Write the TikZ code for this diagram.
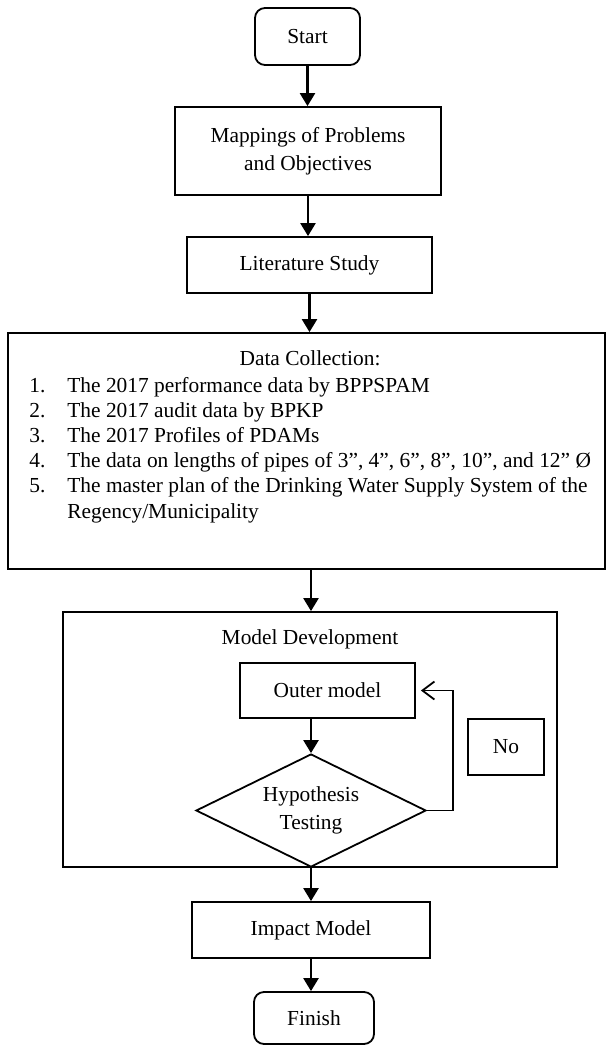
\documentclass[tikz,border=0pt]{standalone}
\usepackage{fontspec}
\setmainfont{Liberation Serif}
\usetikzlibrary{arrows.meta,shapes.geometric}

\begin{document}
\begin{tikzpicture}[x=0.5pt, y=-0.5pt,
    every node/.style={font=\fontsize{10.7}{14}\selectfont},
    box/.style={draw, line width=0.9pt, inner sep=0pt, align=center},
    roundbox/.style={box, rounded corners=5pt},
    flow/.style={-{Triangle[length=6.5pt, width=7.5pt]}, line width=1.2pt},
    back/.style={-{Straight Barb[length=6pt, width=9pt]}, line width=0.9pt, shorten >=2.5pt}]
    \useasboundingbox (0, 0) rectangle (607, 1045);

    \node[roundbox, minimum width=52.5pt, minimum height=28.5pt] (start) at (307.5, 36.5) {Start};
    \node[box, minimum width=133pt, minimum height=44pt] (map) at (308, 151) {Mappings of Problems\\and Objectives};
    \node[box, minimum width=122.5pt, minimum height=28pt] (lit) at (309.5, 265) {Literature Study};

    \node[box, minimum width=298.5pt, minimum height=118pt] (data) at (306.5, 451) {};
    \node (datatitle) at (310, 358) {Data Collection:};
    \node[anchor=base west, inner sep=0pt, font=\fontsize{10.7}{12.6}\selectfont] (items) at (29, 392) {%
      \begin{tabular}[t]{@{}p{19pt}@{}l@{}}
        1. & The 2017 performance data by BPPSPAM\\
        2. & The 2017 audit data by BPKP\\
        3. & The 2017 Profiles of PDAMs\\
        4. & The data on lengths of pipes of 3”, 4”, 6”, 8”, 10”, and 12” Ø\\
        5. & The master plan of the Drinking Water Supply System of the\\
           & Regency/Municipality
      \end{tabular}};

    \node[box, minimum width=247pt, minimum height=127.5pt] (dev) at (310, 739.5) {};
    \node (devtitle) at (310, 639) {Model Development};
    \node[box, minimum width=87.5pt, minimum height=27.5pt] (outer) at (327.5, 690.5) {Outer model};
    \node[box, shape=diamond, aspect=2.04, minimum width=115pt, minimum height=56.5pt] (dia) at (311, 810.5) {Hypothesis\\Testing};
    \node[box, minimum width=38pt, minimum height=28pt] (no) at (506, 747) {No};
    \coordinate (loop) at (453, 810.5);

    \node[box, minimum width=119pt, minimum height=28pt] (impact) at (311, 930) {Impact Model};
    \node[roundbox, minimum width=60pt, minimum height=26pt] (finish) at (314, 1018) {Finish};

    \draw[flow] (start) -- (start |- map.north);
    \draw[flow] (map) -- (map |- lit.north);
    \draw[flow] (lit) -- (lit |- data.north);
    \draw[flow] (data.south -| dia) -- (dev.north -| dia);
    \draw[flow] (outer.south -| dia) -- (dia.north);
    \draw[back] (dia.east) -- (loop) |- (outer.east);
    \draw[flow] (dia) -- (dia |- impact.north);
    \draw[flow] (impact) -- (impact |- finish.north);
\end{tikzpicture}
\end{document}
